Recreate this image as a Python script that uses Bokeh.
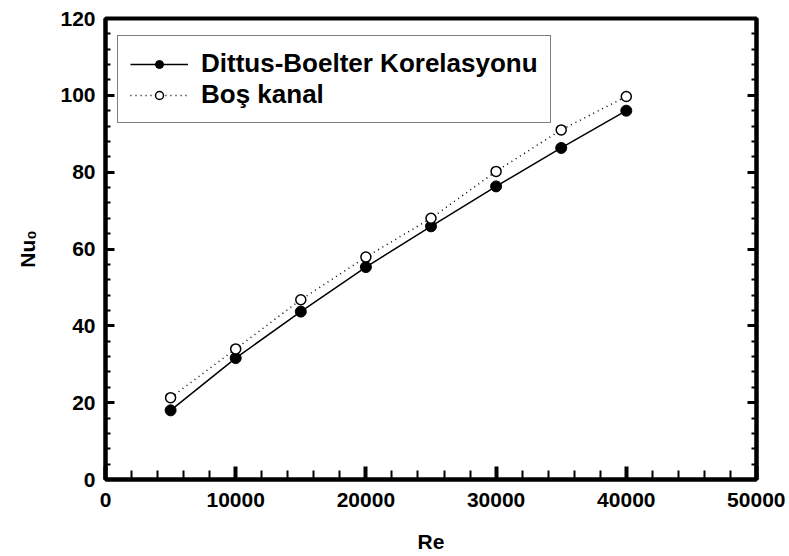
from bokeh.plotting import figure
from bokeh.models import Range1d, FixedTicker, LinearAxis, Legend, LegendItem, CustomJSTickFormatter
from bokeh.embed import file_html
from bokeh.resources import INLINE

# ---- data ----
re_values = [5000, 10000, 15000, 20000, 25000, 30000, 35000, 40000]
nu_dittus_boelter = [18.0, 31.6, 43.7, 55.3, 65.9, 76.3, 86.3, 96.0]
nu_bos_kanal = [21.3, 34.0, 46.8, 57.9, 68.0, 80.2, 91.0, 99.7]

x_ticks = [0, 10000, 20000, 30000, 40000, 50000]
y_ticks = [0, 20, 40, 60, 80, 100, 120]
x_minor = [v for v in range(0, 50001, 2000) if v % 10000]
y_minor = [v for v in range(0, 121, 4) if v % 20]

label_db = "Dittus-Boelter Korelasyonu"
label_bos = "Boş kanal"
x_label = "Re"
y_label = "Nu\u2080"

FONT = "Liberation Sans"

p = figure(width=785, height=556,
           x_range=Range1d(0, 50000), y_range=Range1d(0, 120),
           output_backend="svg", toolbar_location=None,
           min_border_left=105, min_border_right=29,
           min_border_top=18, min_border_bottom=77)

p.xgrid.visible = False
p.ygrid.visible = False
p.outline_line_color = "black"
p.outline_line_width = 4
p.background_fill_color = "white"
p.border_fill_color = "white"

def style_axis(ax, ticker, major_in, minor_in):
    ax.ticker = ticker
    ax.axis_line_width = 4
    ax.axis_line_color = "black"
    ax.major_tick_in = major_in
    ax.major_tick_out = 0
    ax.minor_tick_in = minor_in
    ax.minor_tick_out = 0
    ax.major_tick_line_width = 3
    ax.minor_tick_line_width = 2
    ax.major_tick_line_color = "black"
    ax.minor_tick_line_color = "black"
    ax.major_label_text_font = FONT
    ax.major_label_text_font_style = "bold"
    ax.major_label_text_font_size = "21px"
    ax.major_label_text_color = "black"
    ax.axis_label_text_font = FONT
    ax.axis_label_text_font_style = "bold"
    ax.axis_label_text_font_size = "21px"
    ax.axis_label_text_color = "black"

xt = FixedTicker(ticks=x_ticks, minor_ticks=x_minor)
yt = FixedTicker(ticks=y_ticks, minor_ticks=y_minor)

style_axis(p.xaxis[0], xt, 13, 9)
p.xaxis[0].major_tick_line_width = 4
p.xaxis[0].major_label_standoff = 13
p.xaxis[0].axis_label = x_label
p.xaxis[0].axis_label_standoff = 20

style_axis(p.yaxis[0], yt, 9, 5)
p.yaxis[0].major_label_standoff = 10
p.yaxis[0].axis_label = y_label
p.yaxis[0].axis_label_standoff = 18

right = LinearAxis()
style_axis(right, FixedTicker(ticks=y_ticks, minor_ticks=y_minor), 9, 5)
right.formatter = CustomJSTickFormatter(code="return ''")
right.major_label_text_font_size = "0px"
right.major_label_standoff = 0
p.add_layout(right, "right")

r1 = p.line(re_values, nu_dittus_boelter, line_color="black", line_width=1.5)
r2 = p.scatter(re_values, nu_dittus_boelter, size=11, fill_color="black", line_color="black")
r3 = p.line(re_values, nu_bos_kanal, line_color="black", line_width=1.5, line_dash="1 4")
r4 = p.scatter(re_values, nu_bos_kanal, size=10, fill_color="white", line_color="black", line_width=1.5)

legend = Legend(items=[LegendItem(label=label_db, renderers=[r1, r2]),
                       LegendItem(label=label_bos, renderers=[r3, r4])],
                location=(12, 356))
legend.label_text_font = FONT
legend.label_text_font_style = "bold"
legend.label_text_font_size = "26px"
legend.label_text_color = "black"
legend.border_line_color = "black"
legend.border_line_width = 1
legend.background_fill_color = "white"
legend.background_fill_alpha = 1
legend.padding = 12
legend.label_standoff = 13
legend.glyph_width = 58
legend.spacing = 0
p.add_layout(legend)

open("out.html", "w").write(file_html(p, INLINE))
